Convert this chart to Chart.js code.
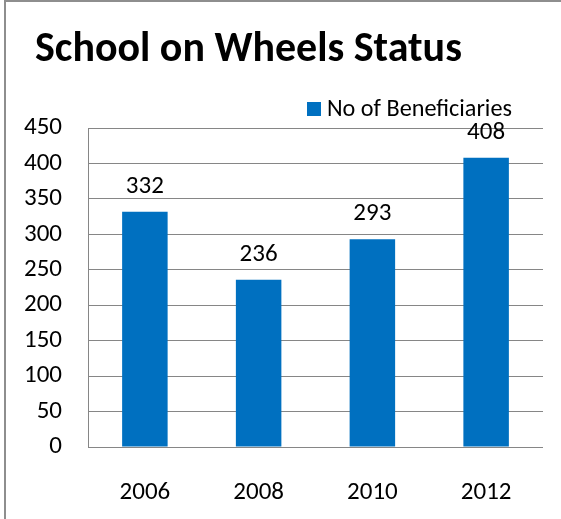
<!DOCTYPE html>
<html>
<head>
<meta charset="utf-8">
<script src="https://cdn.jsdelivr.net/npm/chart.js@4.4.1/dist/chart.umd.min.js"></script>
<style>
  html, body { margin: 0; padding: 0; background: #ffffff; }
  #wrap { width: 561px; height: 519px; position: relative; }
</style>
</head>
<body>
<div id="wrap"><canvas id="c" width="561" height="519"></canvas></div>
<script>
// ---- data ----
const chartTitle = 'School on Wheels Status';
const seriesLabel = 'No of Beneficiaries';
const categories = ['2006', '2008', '2010', '2012'];
const beneficiaries = [332, 236, 293, 408];
const yMin = 0;
const yMax = 450;
const yStep = 50;

// ---- styles ----
const FONT = "'Carlito', 'Open Sans', sans-serif";
const BAR_COLOR = '#0070C0';
const GRID_COLOR = '#868686';
const TEXT_SIZE = 25;

function fitFont(ctx, text, weight, targetWidth) {
  ctx.font = weight + ' 100px ' + FONT;
  const w = ctx.measureText(text).width;
  return 100 * targetWidth / w;
}

const decorPlugin = {
  id: 'decor',
  beforeDraw(chart) {
    const ctx = chart.ctx;
    ctx.save();
    ctx.fillStyle = '#ffffff';
    ctx.fillRect(0, 0, chart.width, chart.height);
    ctx.restore();
  },
  afterDraw(chart) {
    const ctx = chart.ctx;
    ctx.save();
    // outer frame (left + top visible)
    ctx.fillStyle = '#8e8e8e';
    ctx.fillRect(4, 0, 2, chart.height);
    ctx.fillRect(4, 0, chart.width, 2);
    // title
    const ts = fitFont(ctx, chartTitle, 'bold', 427);
    ctx.font = 'bold ' + ts.toFixed(2) + 'px ' + FONT;
    ctx.fillStyle = '#000000';
    ctx.textAlign = 'left';
    ctx.textBaseline = 'alphabetic';
    ctx.fillText(chartTitle, 35, 61);
    // legend
    const label = chart.data.datasets[0].label;
    ctx.fillStyle = chart.data.datasets[0].backgroundColor;
    ctx.fillRect(307, 102, 14, 14);
    const ls = fitFont(ctx, label, 'normal', 185);
    ctx.font = 'normal ' + ls.toFixed(2) + 'px ' + FONT;
    ctx.fillStyle = '#000000';
    ctx.fillText(label, 327, 116);
    ctx.restore();
  }
};

const valueLabels = {
  id: 'valueLabels',
  afterDatasetsDraw(chart) {
    const ctx = chart.ctx;
    const meta = chart.getDatasetMeta(0);
    const data = chart.data.datasets[0].data;
    ctx.save();
    ctx.font = 'normal ' + TEXT_SIZE + 'px ' + FONT;
    ctx.fillStyle = '#000000';
    ctx.textAlign = 'center';
    ctx.textBaseline = 'alphabetic';
    meta.data.forEach((bar, i) => {
      ctx.fillText(String(data[i]), bar.x, bar.y - 19);
    });
    ctx.restore();
  }
};

new Chart(document.getElementById('c'), {
  type: 'bar',
  data: {
    labels: categories,
    datasets: [{
      label: seriesLabel,
      data: beneficiaries,
      backgroundColor: BAR_COLOR,
      borderWidth: 0,
      barPercentage: 0.4,
      categoryPercentage: 1.0
    }]
  },
  options: {
    responsive: false,
    animation: false,
    devicePixelRatio: 1,
    layout: { padding: { left: 0, top: 128, right: 18, bottom: 0 } },
    plugins: {
      legend: { display: false },
      title: { display: false },
      tooltip: { enabled: false }
    },
    scales: {
      x: {
        grid: { display: false },
        border: { display: false },
        ticks: {
          color: '#000000',
          font: { family: FONT, size: TEXT_SIZE },
          padding: 23,
          maxRotation: 0
        },
        afterFit(scale) { scale.height = 72; }
      },
      y: {
        min: yMin,
        max: yMax,
        grid: { color: GRID_COLOR, lineWidth: 1, drawTicks: false },
        border: { display: true, color: GRID_COLOR, width: 1 },
        ticks: {
          stepSize: yStep,
          color: '#000000',
          font: { family: FONT, size: TEXT_SIZE },
          padding: 26
        },
        afterFit(scale) { scale.width = 88; }
      }
    }
  },
  plugins: [decorPlugin, valueLabels]
});
</script>
</body>
</html>
